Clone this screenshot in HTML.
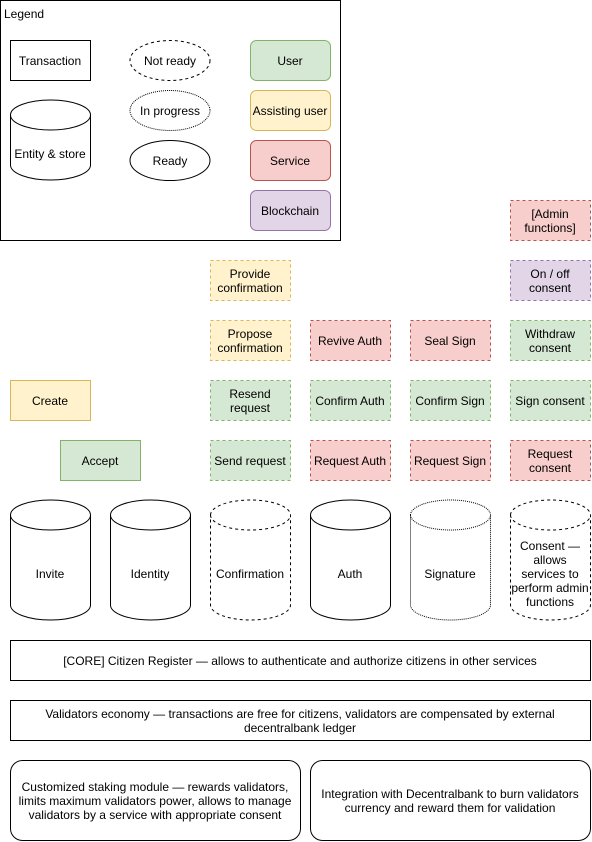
<!DOCTYPE html>
<html><head><meta charset="utf-8"><style>
html,body{margin:0;padding:0;background:#fff}
svg{display:block}
text{font-family:"Liberation Sans",Arial,sans-serif;font-size:12px;fill:#000}
</style></head><body>
<svg width="592" height="842" viewBox="0 0 592 842" xmlns="http://www.w3.org/2000/svg">
<g text-anchor="middle" dominant-baseline="central">
<!-- Legend -->
<rect x="0.5" y="0.5" width="340" height="240" fill="#fff" stroke="#000"/>
<text x="4" y="14" text-anchor="start">Legend</text>
<rect x="10.5" y="40.5" width="80" height="40" fill="#fff" stroke="#000"/>
<text x="50" y="61">Transaction</text>
<path d="M10.5,115 a40,15 0 0 1 80,0 v50 a40,15 0 0 1 -80,0 z M10.5,115 a40,15 0 0 0 80,0" fill="#fff" stroke="#000"/>
<text x="50" y="154">Entity &amp; store</text>
<ellipse cx="170" cy="60.5" rx="40" ry="20" fill="#fff" stroke="#000" stroke-dasharray="3,3"/>
<text x="170" y="61">Not ready</text>
<ellipse cx="170" cy="110.5" rx="40" ry="20" fill="#fff" stroke="#000" stroke-dasharray="1,1"/>
<text x="170" y="111">In progress</text>
<ellipse cx="170" cy="160.5" rx="40" ry="20" fill="#fff" stroke="#000"/>
<text x="170" y="161">Ready</text>
<rect x="250.5" y="40.5" width="80" height="40" rx="6" fill="#d5e8d4" stroke="#82b366"/>
<text x="290" y="61">User</text>
<rect x="250.5" y="90.5" width="80" height="40" rx="6" fill="#fff2cc" stroke="#d6b656"/>
<text x="290" y="111">Assisting user</text>
<rect x="250.5" y="140.5" width="80" height="40" rx="6" fill="#f8cecc" stroke="#b85450"/>
<text x="290" y="161">Service</text>
<rect x="250.5" y="190.5" width="80" height="40" rx="6" fill="#e1d5e7" stroke="#9673a6"/>
<text x="290" y="211">Blockchain</text>

<!-- transaction boxes -->
<g stroke-dasharray="3,3">
<rect x="210.5" y="260.5" width="80" height="40" fill="#fff2cc" stroke="#d6b656"/>
<rect x="210.5" y="320.5" width="80" height="40" fill="#fff2cc" stroke="#d6b656"/>
<rect x="210.5" y="380.5" width="80" height="40" fill="#d5e8d4" stroke="#82b366"/>
<rect x="210.5" y="440.5" width="80" height="40" fill="#d5e8d4" stroke="#82b366"/>
<rect x="310.5" y="320.5" width="80" height="40" fill="#f8cecc" stroke="#b85450"/>
<rect x="310.5" y="380.5" width="80" height="40" fill="#d5e8d4" stroke="#82b366"/>
<rect x="310.5" y="440.5" width="80" height="40" fill="#f8cecc" stroke="#b85450"/>
<rect x="410.5" y="320.5" width="80" height="40" fill="#f8cecc" stroke="#b85450"/>
<rect x="410.5" y="380.5" width="80" height="40" fill="#d5e8d4" stroke="#82b366"/>
<rect x="410.5" y="440.5" width="80" height="40" fill="#f8cecc" stroke="#b85450"/>
<rect x="510.5" y="200.5" width="80" height="40" fill="#f8cecc" stroke="#b85450"/>
<rect x="510.5" y="260.5" width="80" height="40" fill="#e1d5e7" stroke="#9673a6"/>
<rect x="510.5" y="320.5" width="80" height="40" fill="#d5e8d4" stroke="#82b366"/>
<rect x="510.5" y="380.5" width="80" height="40" fill="#d5e8d4" stroke="#82b366"/>
<rect x="510.5" y="440.5" width="80" height="40" fill="#f8cecc" stroke="#b85450"/>
</g>
<rect x="10.5" y="380.5" width="80" height="40" fill="#fff2cc" stroke="#d6b656"/>
<rect x="60.5" y="440.5" width="80" height="40" fill="#d5e8d4" stroke="#82b366"/>
<text x="50" y="401">Create</text>
<text x="100" y="461">Accept</text>
<text x="250" y="274">Provide</text><text x="250" y="288">confirmation</text>
<text x="250" y="334">Propose</text><text x="250" y="348">confirmation</text>
<text x="250" y="394">Resend</text><text x="250" y="408">request</text>
<text x="250" y="461">Send request</text>
<text x="350" y="341">Revive Auth</text>
<text x="350" y="401">Confirm Auth</text>
<text x="350" y="461">Request Auth</text>
<text x="450" y="341">Seal Sign</text>
<text x="450" y="401">Confirm Sign</text>
<text x="450" y="461">Request Sign</text>
<text x="550" y="214">[Admin</text><text x="550" y="228">functions]</text>
<text x="550" y="274">On / off</text><text x="550" y="288">consent</text>
<text x="550" y="334">Withdraw</text><text x="550" y="348">consent</text>
<text x="550" y="401">Sign consent</text>
<text x="550" y="454">Request</text><text x="550" y="468">consent</text>

<!-- cylinders -->
<path d="M10.5,515 a40,15 0 0 1 80,0 v90 a40,15 0 0 1 -80,0 z M10.5,515 a40,15 0 0 0 80,0" fill="#fff" stroke="#000"/>
<path d="M110.5,515 a40,15 0 0 1 80,0 v90 a40,15 0 0 1 -80,0 z M110.5,515 a40,15 0 0 0 80,0" fill="#fff" stroke="#000"/>
<path d="M210.5,515 a40,15 0 0 1 80,0 v90 a40,15 0 0 1 -80,0 z M210.5,515 a40,15 0 0 0 80,0" fill="#fff" stroke="#000" stroke-dasharray="3,3"/>
<path d="M310.5,515 a40,15 0 0 1 80,0 v90 a40,15 0 0 1 -80,0 z M310.5,515 a40,15 0 0 0 80,0" fill="#fff" stroke="#000"/>
<path d="M410.5,515 a40,15 0 0 1 80,0 v90 a40,15 0 0 1 -80,0 z M410.5,515 a40,15 0 0 0 80,0" fill="#fff" stroke="#000" stroke-dasharray="1,1"/>
<path d="M510.5,515 a40,15 0 0 1 80,0 v90 a40,15 0 0 1 -80,0 z M510.5,515 a40,15 0 0 0 80,0" fill="#fff" stroke="#000" stroke-dasharray="3,3"/>
<text x="50" y="574">Invite</text>
<text x="150" y="574">Identity</text>
<text x="250" y="574">Confirmation</text>
<text x="350" y="574">Auth</text>
<text x="450" y="574">Signature</text>
<text x="550" y="546">Consent —</text>
<text x="550" y="560">allows</text>
<text x="550" y="574">services to</text>
<text x="550" y="588">perform admin</text>
<text x="550" y="602">functions</text>

<!-- bottom -->
<rect x="10.5" y="640.5" width="580" height="40" fill="#fff" stroke="#000"/>
<text x="300" y="661">[CORE] Citizen Register — allows to authenticate and authorize citizens in other services</text>
<rect x="10.5" y="700.5" width="580" height="40" fill="#fff" stroke="#000"/>
<text x="300" y="714">Validators economy — transactions are free for citizens, validators are compensated by external</text>
<text x="300" y="728">decentralbank ledger</text>
<rect x="10.5" y="760.5" width="290" height="80" rx="12" fill="#fff" stroke="#000"/>
<text x="155" y="787">Customized staking module — rewards validators,</text>
<text x="155" y="801">limits maximum validators power, allows to manage</text>
<text x="155" y="815">validators by a service with appropriate consent</text>
<rect x="310.5" y="760.5" width="280" height="80" rx="12" fill="#fff" stroke="#000"/>
<text x="450" y="794">Integration with Decentralbank to burn validators</text>
<text x="450" y="808">currency and reward them for validation</text>
</g>
</svg>
</body></html>
